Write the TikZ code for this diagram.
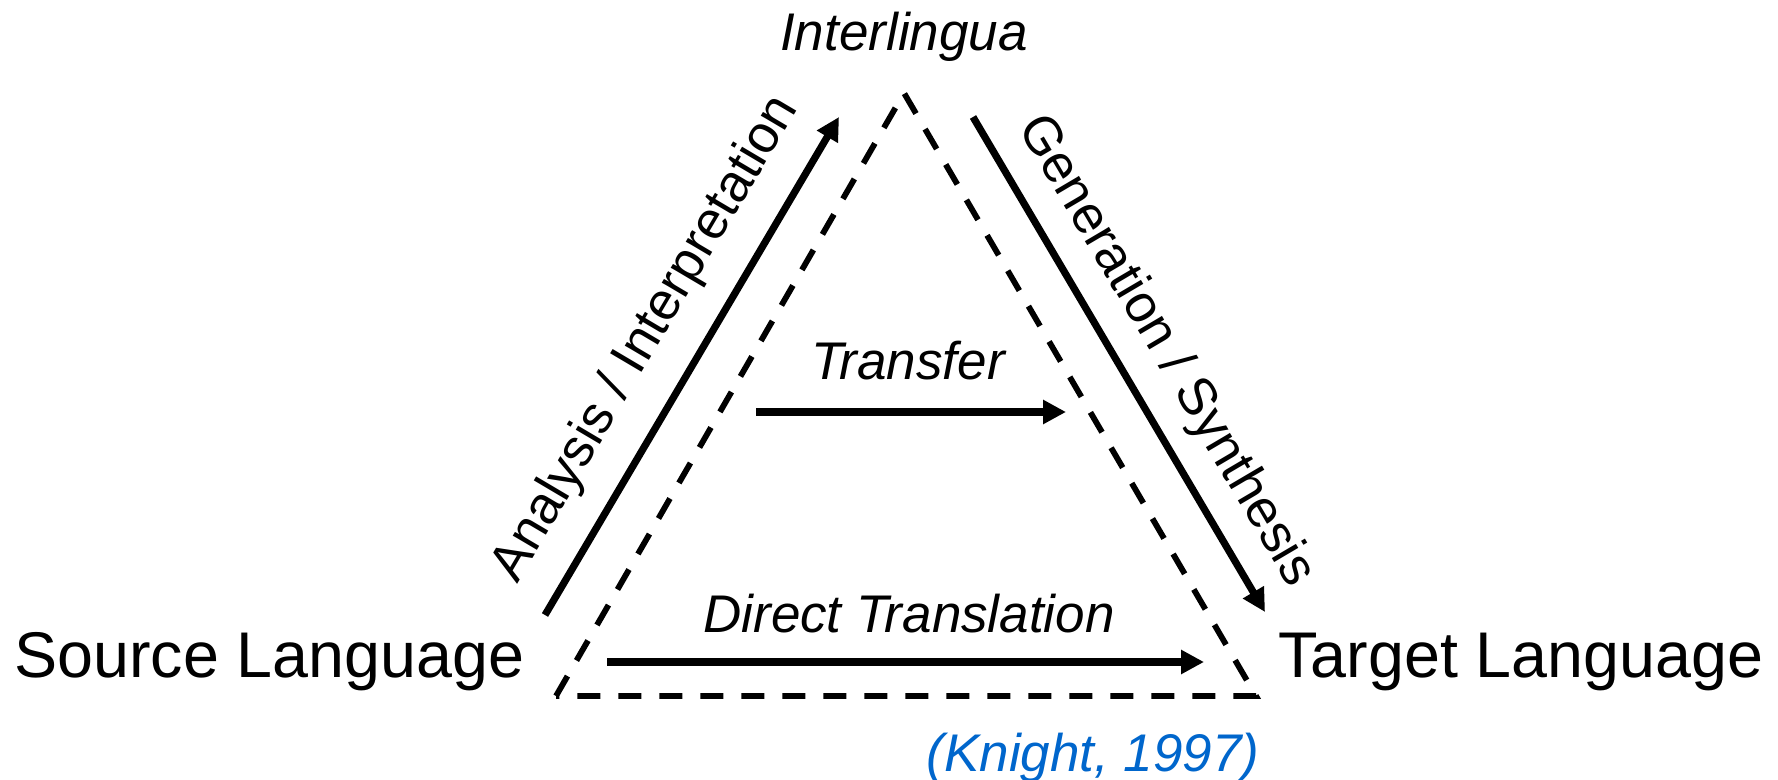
\documentclass[tikz,border=0pt]{standalone}
\usepackage{fontspec}
\setmainfont{Liberation Sans}
\usetikzlibrary{arrows.meta}
\definecolor{citeblue}{RGB}{0,102,204}
\begin{document}
\begin{tikzpicture}[x=0.5pt,y=-0.5pt,
  solidarrow/.style={line width=3.6pt,-{Triangle[length=11.5pt,width=11.5pt]}},
  dashline/.style={line width=2.9pt,dash pattern=on 11.5pt off 9pt},
  big/.style={font=\fontsize{32.3}{36}\selectfont, inner sep=0pt, anchor=base west},
  lab/.style={font=\fontsize{26.5}{30}\selectfont\itshape, inner sep=0pt, anchor=base},
  rlab/.style={font=\fontsize{26.5}{30}\selectfont, inner sep=0pt, anchor=base}]
\useasboundingbox (0,0) rectangle (1778,780);
% dashed triangle
\coordinate (apex) at (904,93);
\coordinate (bl) at (556,696);
\coordinate (br) at (1256,696);
\draw[dashline] (bl) -- (apex) -- (br) -- cycle;
% arrows
\coordinate (aS) at (545,615);
\coordinate (aE) at (839,117);
\coordinate (gS) at (973,117);
\coordinate (gE) at (1265,612);
\coordinate (tS) at (756,412);
\coordinate (tE) at (1066,412);
\coordinate (dS) at (607,662);
\coordinate (dE) at (1204,662);
\draw[solidarrow] (aS) -- (aE);
\draw[solidarrow] (gS) -- (gE);
\draw[solidarrow] (tS) -- (tE);
\draw[solidarrow] (dS) -- (dE);
% texts
\node[lab] (inter) at (904,51) {Interlingua};
\node[big] (src) at (14,677) {Source Language};
\node[big] (tgt) at (1278,677) {Target Language};
\node[lab] (transfer) at (908,380) {Transfer};
\node[lab] (direct) at (909,632) {Direct Translation};
\node[lab, text=citeblue] (cite) at (1093,771) {(Knight, 1997)};
\node[rlab, rotate=59.4] (analysis) at (658,346) {Analysis / Interpretation};
\node[rlab, rotate=-59.5] (gen) at (1154,358) {Generation / Synthesis};
\end{tikzpicture}
\end{document}
